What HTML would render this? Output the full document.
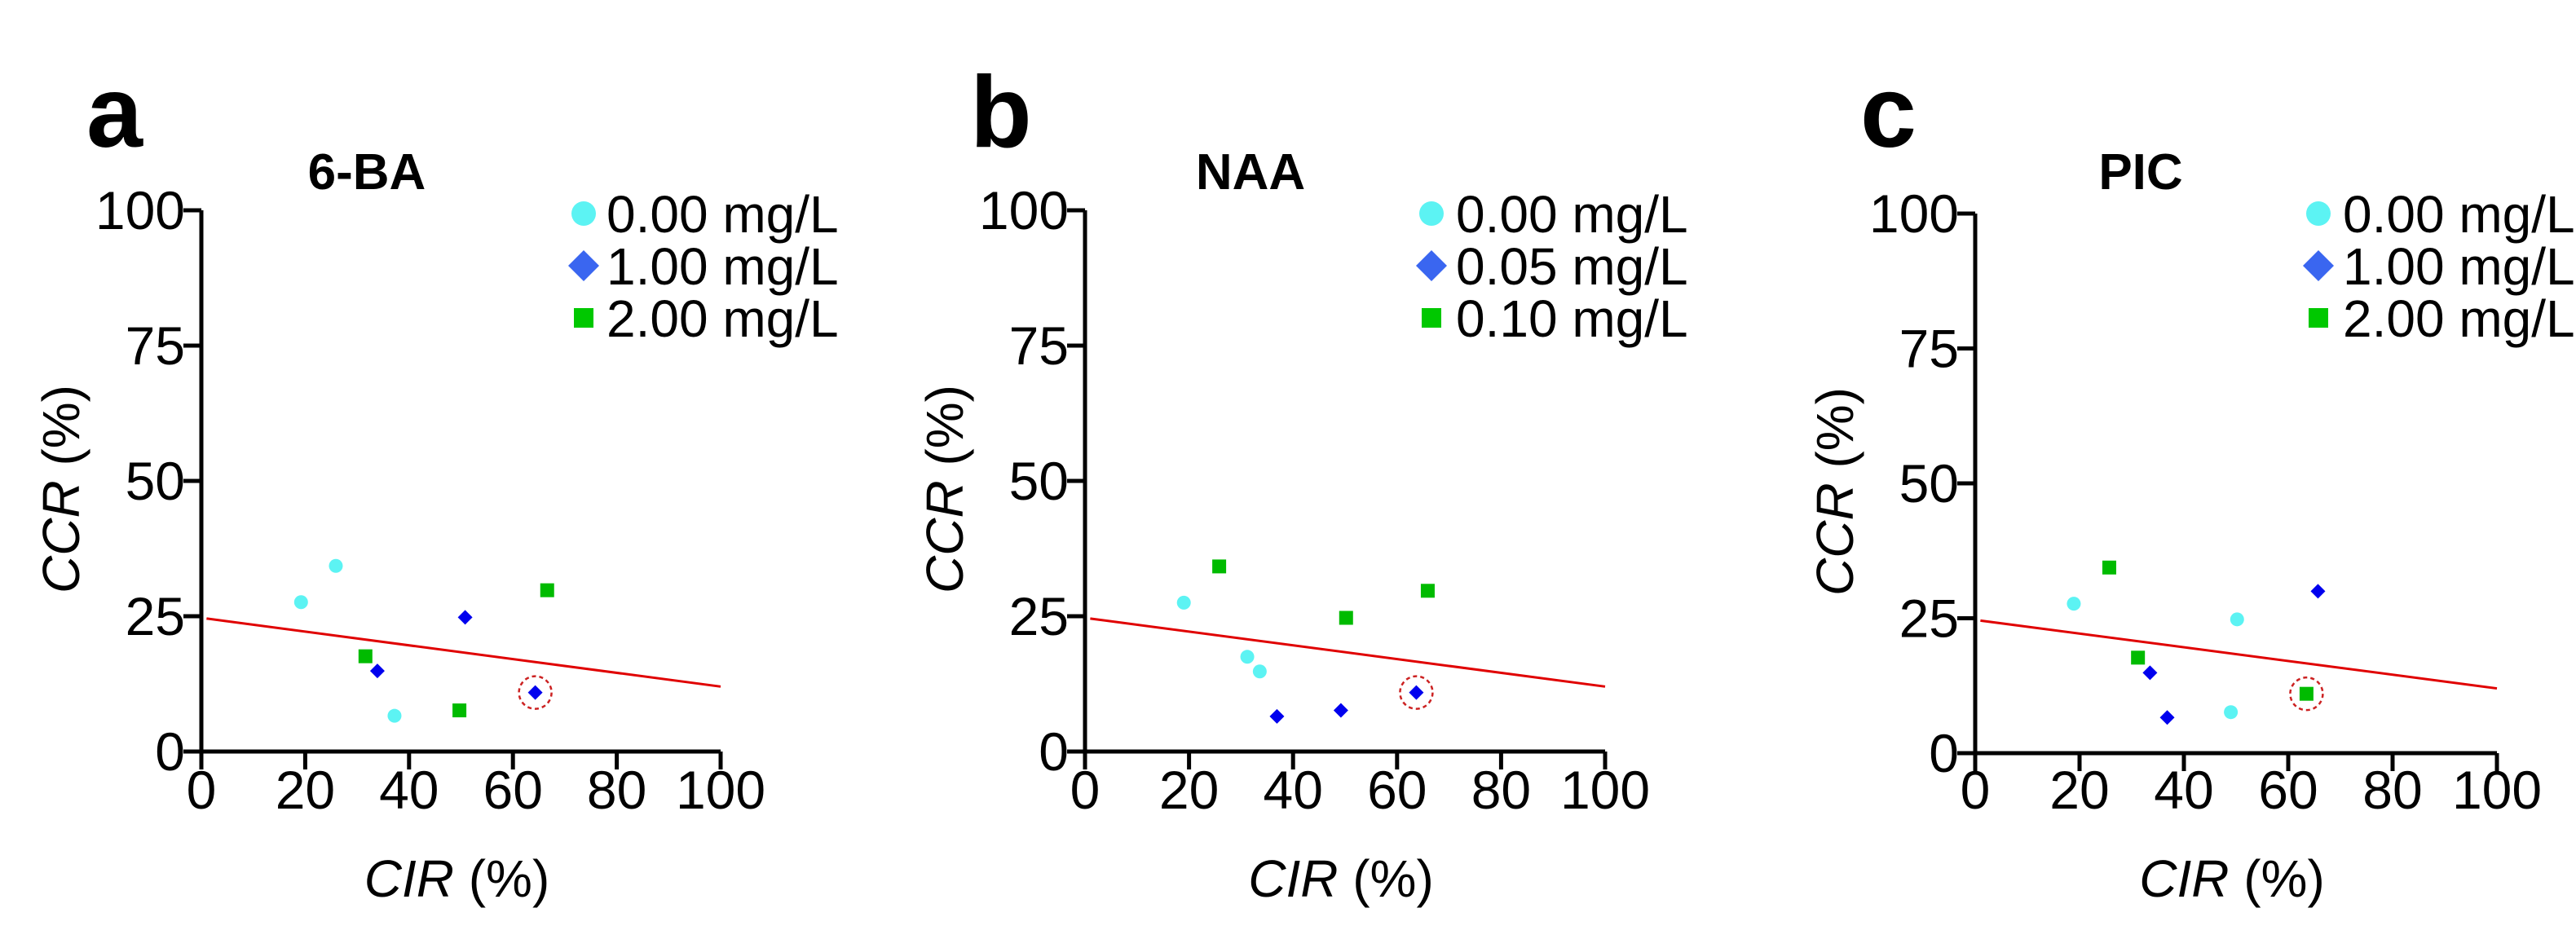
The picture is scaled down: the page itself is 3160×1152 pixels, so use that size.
<!DOCTYPE html>
<html><head><meta charset="utf-8"><style>
html,body{margin:0;padding:0;background:#fff;}
svg{display:block;font-family:"Liberation Sans",Arial,sans-serif;}
</style></head><body>
<svg id="fig" width="3160" height="1152" viewBox="0 0 3160 1152" xmlns="http://www.w3.org/2000/svg"></svg>
<script>
// ---- data ----
const panelLetters = ["a","b","c"];
const panelTitles = ["6-BA","NAA","PIC"];
const legendLabelsA = ["0.00 mg/L","1.00 mg/L","2.00 mg/L"];
const legendLabelsB = ["0.00 mg/L","0.05 mg/L","0.10 mg/L"];
const legendLabelsC = ["0.00 mg/L","1.00 mg/L","2.00 mg/L"];
const xTicks = [0,20,40,60,80,100];
const yTicks = [0,25,50,75,100];
// panel a
const aCyanX = [19.2,25.9,37.2];  const aCyanY = [27.6,34.3,6.6];
const aBlueX = [33.9,50.8,64.3];  const aBlueY = [14.9,24.8,10.9];
const aGreenX = [31.6,49.7,66.6]; const aGreenY = [17.6,7.6,29.8];
// panel b
const bCyanX = [19.0,31.2,33.6];  const bCyanY = [27.5,17.5,14.8];
const bBlueX = [36.9,49.2,63.7];  const bBlueY = [6.5,7.6,10.9];
const bGreenX = [25.8,50.2,65.9]; const bGreenY = [34.2,24.7,29.7];
// panel c
const cCyanX = [18.9,50.2,49.0];  const cCyanY = [27.7,24.8,7.6];
const cBlueX = [65.7,33.5,36.8];  const cBlueY = [30.0,14.9,6.6];
const cGreenX = [25.7,31.2,63.5]; const cGreenY = [34.4,17.7,11.0];
// highlighted point [series, index]
const highlightSeries = ["blue","blue","green"];
const highlightIndex = [2,2,2];
// regression line
const fitIntercept = 24.7;
const fitSlope = -0.127;
const fitRange = [1,100];

const NS="http://www.w3.org/2000/svg";
const svg=document.getElementById('fig');
function mk(tag,attrs,parent){const e=document.createElementNS(NS,tag);for(const k in attrs)e.setAttribute(k,attrs[k]);(parent||svg).appendChild(e);return e;}

const panels=[
 {ox:247,oy:922,sx:6.37,sy:6.64,legend:legendLabelsA,cyan:[aCyanX,aCyanY],blue:[aBlueX,aBlueY],green:[aGreenX,aGreenY]},
 {ox:1331,oy:922,sx:6.38,sy:6.64,legend:legendLabelsB,cyan:[bCyanX,bCyanY],blue:[bBlueX,bBlueY],green:[bGreenX,bGreenY]},
 {ox:2423,oy:924,sx:6.4,sy:6.62,legend:legendLabelsC,cyan:[cCyanX,cCyanY],blue:[cBlueX,cBlueY],green:[cGreenX,cGreenY]}
];
const COL={cyan:"#5cf3f3",blue:"#0000ee",green:"#00bb00"};
function marker(g,type,cx,cy,size,color){
  let e;
  if(type==="cyan") e=mk('circle',{cx:cx,cy:cy,r:size,fill:color},g);
  else if(type==="blue") e=mk('polygon',{points:`${cx},${cy-size} ${cx+size},${cy} ${cx},${cy+size} ${cx-size},${cy}`,fill:color},g);
  else e=mk('rect',{x:cx-size,y:cy-size,width:2*size,height:2*size,fill:color},g);
  return e;
}
panels.forEach((p,pi)=>{
  const off=[0,1084,2176][pi];
  const X=v=>p.ox+v*p.sx, Y=v=>p.oy-v*p.sy;
  const g=mk('g',{});
  
  
  const L=mk('text',{x:106+off,y:180,'font-size':124,'font-weight':'bold',fill:'#000'},g);
  L.textContent=panelLetters[pi];
  
  
  const T=mk('text',{x:450+off,y:232,'font-size':62,'font-weight':'bold','text-anchor':'middle'},g);
  T.textContent=panelTitles[pi];
  
  
  // axes
  const ax=mk('path',{d:`M${X(0)},${Y(100)} V${Y(0)} H${X(100)}`,stroke:'#000','stroke-width':5,fill:'none'},g);
  
  
  yTicks.forEach(t=>{
    mk('line',{x1:X(0)-22,x2:X(0),y1:Y(t),y2:Y(t),stroke:'#000','stroke-width':5},g);
    const tx=mk('text',{x:X(0)-20,y:Y(t)+23,'font-size':66,'text-anchor':'end'},g);
    tx.textContent=t;
    
    
  });
  xTicks.forEach(t=>{
    mk('line',{x1:X(t),x2:X(t),y1:Y(0),y2:Y(0)+22,stroke:'#000','stroke-width':5},g);
    const tx=mk('text',{x:X(t),y:992,'font-size':66,'text-anchor':'middle'},g);
    tx.textContent=t;
    
    
  });
  const xt=mk('text',{x:X(50)-5,y:1100,'font-size':64,'text-anchor':'middle'},g);
  xt.innerHTML='<tspan font-style="italic">CIR</tspan> (%)';
  
  
  const yt=mk('text',{x:0,y:0,'font-size':64,'text-anchor':'middle',transform:`translate(${X(0)-150},${Y(50)+10}) rotate(-90)`},g);
  yt.innerHTML='<tspan font-style="italic">CCR</tspan> (%)';
  
  
  // fit line
  const fl=mk('line',{x1:X(fitRange[0]),y1:Y(fitIntercept+fitSlope*fitRange[0]),x2:X(fitRange[1]),y2:Y(fitIntercept+fitSlope*fitRange[1]),stroke:'#e00000','stroke-width':3},g);
  
  
  // points
  ["cyan","blue","green"].forEach(s=>{
    const xs=p[s][0], ys=p[s][1];
    xs.forEach((v,i)=>{
      const sz = s==="cyan"?8.5:(s==="blue"?9:8.5);
      const m=marker(g,s,X(v),Y(ys[i]),sz,COL[s]);
      
      
      if(highlightSeries[pi]===s && highlightIndex[pi]===i){
        const c=mk('circle',{cx:X(v),cy:Y(ys[i]),r:20,fill:'none',stroke:'#cc2222','stroke-width':2.5,'stroke-dasharray':'5 4'},g);
        
        
      }
    });
  });
  // legend
  const lx=[716,1756,2844][pi], tx0=[744,1786,2874][pi];
  const lcol=["#5cf3f3","#3a66f0","#00c800"];
  ["cyan","blue","green"].forEach((s,i)=>{
    const cy=262+i*64;
    const m=marker(g,s,lx,cy,s==="cyan"?15:(s==="blue"?19:12),lcol[i]);
    
    
    const t=mk('text',{x:tx0,y:cy+23,'font-size':64},g);
    t.textContent=p.legend[i];
    
    
  });
});
</script>
</body></html>
